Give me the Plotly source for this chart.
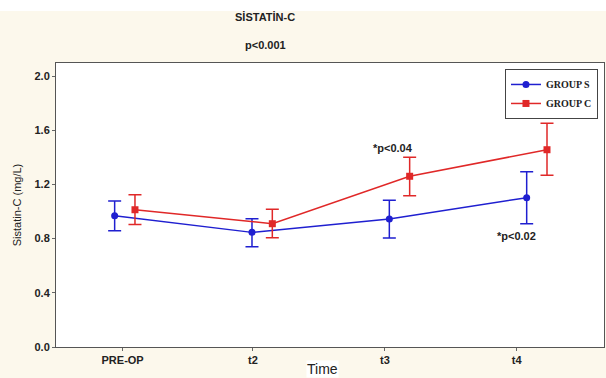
import plotly.graph_objects as go

categories = ["PRE-OP", "t2", "t3", "t4"]
group_s = [0.969, 0.846, 0.945, 1.102]
group_s_hi = [1.077, 0.947, 1.083, 1.294]
group_s_lo = [0.858, 0.740, 0.804, 0.910]
group_c = [1.013, 0.910, 1.260, 1.456]
group_c_hi = [1.124, 1.016, 1.400, 1.651]
group_c_lo = [0.905, 0.807, 1.117, 1.267]
y_ticks = [0.0, 0.4, 0.8, 1.2, 1.6, 2.0]

BLUE = "#1f1fd0"
RED = "#e02828"
OFF = 0.074
# tick label positions (slightly offset from the data columns, as in the source)
TICK_POS = [-0.016, 0.933, 1.894, 2.853]

idx = list(range(len(categories)))

fig = go.Figure()
fig.add_trace(go.Scatter(
    x=[i - OFF for i in idx], y=group_s, name="<b>GROUP S</b>",
    mode="lines+markers", line=dict(color=BLUE, width=1.5),
    marker=dict(symbol="circle", size=7, color=BLUE),
    error_y=dict(type="data", symmetric=False,
                 array=[h - v for h, v in zip(group_s_hi, group_s)],
                 arrayminus=[v - l for v, l in zip(group_s, group_s_lo)],
                 color=BLUE, thickness=1.5, width=6.5),
))
fig.add_trace(go.Scatter(
    x=[i + OFF for i in idx], y=group_c, name="<b>GROUP C</b>",
    mode="lines+markers", line=dict(color=RED, width=1.5),
    marker=dict(symbol="square", size=7, color=RED),
    error_y=dict(type="data", symmetric=False,
                 array=[h - v for h, v in zip(group_c_hi, group_c)],
                 arrayminus=[v - l for v, l in zip(group_c, group_c_lo)],
                 color=RED, thickness=1.5, width=6.5),
))

bold = dict(family="Arial, Liberation Sans, sans-serif", size=11, color="#222")

fig.update_layout(
    width=606, height=378,
    margin=dict(l=56, r=2, t=63, b=31, autoexpand=False),
    paper_bgcolor="#fcf8ec",
    plot_bgcolor="white",
    showlegend=True,
    legend=dict(x=0.989, y=0.979, xanchor="right", yanchor="top",
                bgcolor="white", bordercolor="#444", borderwidth=1,
                font=dict(family="Liberation Serif, Times New Roman, serif", size=10, color="#222"),
                itemwidth=30, tracegroupgap=0),
    xaxis=dict(range=[-0.501, 3.489], tickmode="array", tickvals=TICK_POS,
               ticktext=["<b>%s</b>" % c for c in categories],
               tickfont=bold, ticks="outside", ticklen=3, tickcolor="#666",
               showgrid=False, zeroline=False, showline=True, linecolor="#555",
               linewidth=1, mirror=True),
    yaxis=dict(range=[0, 2.096], tickmode="array", tickvals=y_ticks,
               ticktext=["<b>%.1f</b>" % v for v in y_ticks],
               tickfont=bold, ticks="outside", ticklen=3, tickcolor="#666",
               showgrid=False, zeroline=False, showline=True, linecolor="#555",
               linewidth=1, mirror=True,
               title=dict(text="Sistatin-C (mg/L)", standoff=10,
                          font=dict(family="Arial, Liberation Sans, sans-serif", size=11, color="#222"))),
)

fig.add_shape(type="rect", xref="paper", yref="paper",
              x0=-0.2, x1=1.2, y0=(347 - 11) / 284, y1=1.4,
              fillcolor="white", line=dict(width=0), layer="above")

fig.add_annotation(text="<b>SİSTATİN-C</b>", xref="paper", yref="paper",
                   x=(265 - 56) / 548, y=(347 - 17) / 284,
                   showarrow=False, font=bold, yanchor="middle")
fig.add_annotation(text="<b>p<0.001</b>", xref="paper", yref="paper",
                   x=(265 - 56) / 548, y=(347 - 45) / 284,
                   showarrow=False, font=bold, yanchor="middle")
fig.add_annotation(text="<b>*p<0.04</b>", xref="paper", yref="paper",
                   x=(393 - 56) / 548, y=(347 - 148) / 284,
                   showarrow=False, font=bold, yanchor="middle")
fig.add_annotation(text="<b>*p<0.02</b>", xref="paper", yref="paper",
                   x=(538 - 56) / 548, y=(347 - 236) / 284,
                   showarrow=False, font=bold, yanchor="middle")
fig.add_annotation(text="Time", xref="paper", yref="paper",
                   x=(322 - 56) / 548, y=(347 - 369) / 284,
                   showarrow=False, yanchor="middle",
                   font=dict(family="Arial, Liberation Sans, sans-serif", size=14, color="#222"),
                   bgcolor="white", borderpad=0)

fig.write_html("out.html", config={"displayModeBar": False},
               post_script="document.body.style.margin='0';document.body.style.padding='0';")
